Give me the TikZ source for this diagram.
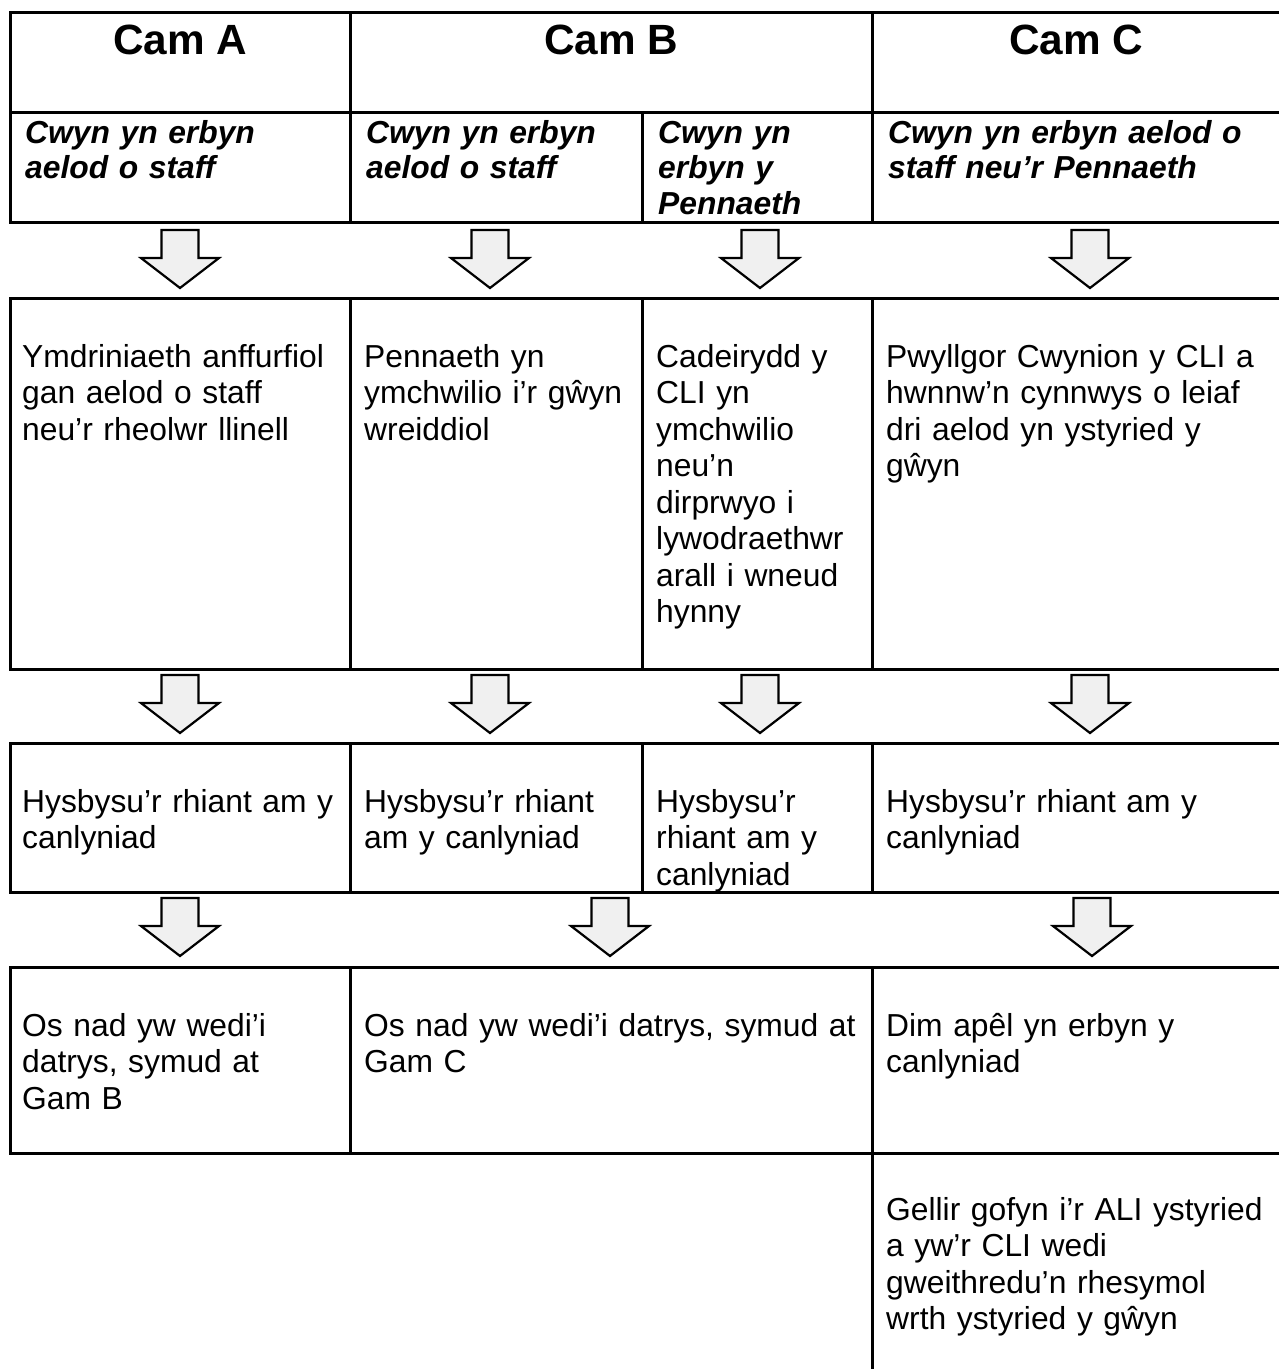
\documentclass[tikz,border=0pt]{standalone}
\usepackage{fontspec}
\setmainfont{Liberation Sans}
\newcommand\bodyfnt{\fontsize{31.8}{36.5}\selectfont}
\newcommand\headfnt{\fontsize{42.3}{48}\selectfont\bfseries}
\newcommand\subfnt{\fontsize{31.8}{35.5}\selectfont\bfseries\itshape}
\begin{document}
\begin{tikzpicture}[x=1pt,y=-1pt,
  grid/.style={line width=3pt, line cap=rect},
  txt/.style={anchor=base west, inner sep=0pt, text width=700pt, align=left, font=\bodyfnt},
  subtxt/.style={anchor=base west, inner sep=0pt, text width=700pt, align=left, font=\subfnt},
  headtxt/.style={anchor=base, inner sep=0pt, font=\headfnt},
  dnarrow/.pic={\draw[line width=2.2pt, fill=black!6, line join=miter]
     (-18.5,0) -- (18.5,0) -- (18.5,28) -- (39,28) -- (0,58) -- (-39,28) -- (-18.5,28) -- cycle;}
]
\useasboundingbox (0,0) rectangle (1279,1369);
\fill[white] (0,0) rectangle (1279,1369);

% table 1
\draw[grid] (10,12) rectangle (1285,222);
\draw[grid] (10,112) -- (1285,112);
\draw[grid] (350,12) -- (350,222);
\draw[grid] (872,12) -- (872,222);
\draw[grid] (642,112) -- (642,222);
\node[headtxt] (hA) at (180,54) {Cam A};
\node[headtxt] (hB) at (611,54) {Cam B};
\node[headtxt] (hC) at (1076,54) {Cam C};
\node[subtxt] (s1) at (25,143) {Cwyn yn erbyn\\aelod o staff};
\node[subtxt] (s2) at (366,143) {Cwyn yn erbyn\\aelod o staff};
\node[subtxt] (s3) at (658,143) {Cwyn yn\\erbyn y\\Pennaeth};
\node[subtxt] (s4) at (888,143) {Cwyn yn erbyn aelod o\\staff neu’r Pennaeth};

% arrows 1
\pic at (180,230) {dnarrow};
\pic at (490,230) {dnarrow};
\pic at (760,230) {dnarrow};
\pic at (1090,230) {dnarrow};

% table 2
\draw[grid] (10,298) rectangle (1285,669);
\draw[grid] (350,298) -- (350,669);
\draw[grid] (642,298) -- (642,669);
\draw[grid] (872,298) -- (872,669);
\node[txt] (a1) at (22,367) {Ymdriniaeth anffurfiol\\gan aelod o staff\\neu’r rheolwr llinell};
\node[txt] (a2) at (364,367) {Pennaeth yn\\ymchwilio i’r gŵyn\\wreiddiol};
\node[txt] (a3) at (656,367) {Cadeirydd y\\CLI yn\\ymchwilio\\neu’n\\dirprwyo i\\lywodraethwr\\arall i wneud\\hynny};
\node[txt] (a4) at (886,367) {Pwyllgor Cwynion y CLI a\\hwnnw’n cynnwys o leiaf\\dri aelod yn ystyried y\\gŵyn};

% arrows 2
\pic at (180,675) {dnarrow};
\pic at (490,675) {dnarrow};
\pic at (760,675) {dnarrow};
\pic at (1090,675) {dnarrow};

% table 3
\draw[grid] (10,743) rectangle (1285,892);
\draw[grid] (350,743) -- (350,892);
\draw[grid] (642,743) -- (642,892);
\draw[grid] (872,743) -- (872,892);
\node[txt] (b1) at (22,812) {Hysbysu’r rhiant am y\\canlyniad};
\node[txt] (b2) at (364,812) {Hysbysu’r rhiant\\am y canlyniad};
\node[txt] (b3) at (656,812) {Hysbysu’r\\rhiant am y\\canlyniad};
\node[txt] (b4) at (886,812) {Hysbysu’r rhiant am y\\canlyniad};

% arrows 3
\pic at (180,898) {dnarrow};
\pic at (610,898) {dnarrow};
\pic at (1092,898) {dnarrow};

% table 4
\draw[grid] (10,967) rectangle (1285,1153);
\draw[grid] (350,967) -- (350,1153);
\draw[grid] (872,967) -- (872,1375);
\node[txt] (c1) at (22,1036) {Os nad yw wedi’i\\datrys, symud at\\Gam B};
\node[txt] (c2) at (364,1036) {Os nad yw wedi’i datrys, symud at\\Gam C};
\node[txt] (c3) at (886,1036) {Dim apêl yn erbyn y\\canlyniad};

% last cell
\node[txt] (d1) at (886,1220) {Gellir gofyn i’r ALI ystyried\\a yw’r CLI wedi\\gweithredu’n rhesymol\\wrth ystyried y gŵyn};
\end{tikzpicture}
\end{document}
